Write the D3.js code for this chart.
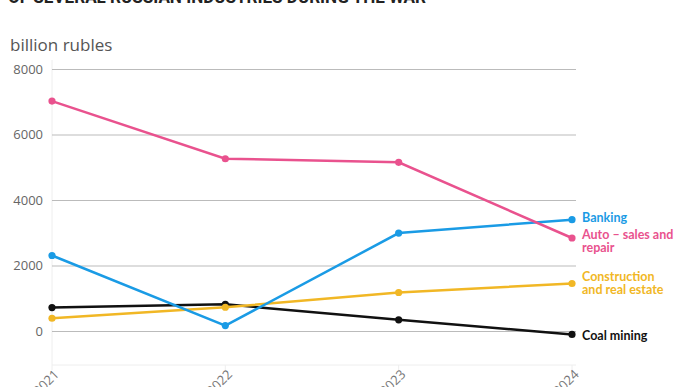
<!DOCTYPE html>
<html><head><meta charset="utf-8">
<script src="https://cdn.jsdelivr.net/npm/d3@7"></script>
<style>body{margin:0;background:#fff}svg{display:block}</style>
</head><body>
<script>
const years = ["2021","2022","2023","2024"];
const yTicks = [0,2000,4000,6000,8000];
const seriesNames = ["Auto – sales and repair","Banking","Construction and real estate","Coal mining"];
const auto = [7020, 5260, 5150, 2840];
const banking = [2305, 165, 2990, 3400];
const construction = [390, 725, 1175, 1450];
const coal = [715, 815, 340, -105];
const colors = ["#e9528e","#1a9be5","#f1b725","#111111"];
const labelLines = [["Auto – sales and","repair"],["Banking"],["Construction","and real estate"],["Coal mining"]];
const title = "OF SEVERAL RUSSIAN INDUSTRIES DURING THE WAR";
const unit = "billion rubles";

const W=688,H=387;
const svg=d3.select("body").append("svg").attr("width",W).attr("height",H);
const x=d3.scalePoint().domain(years).range([52,572]);
const y=d3.scaleLinear().domain([0,8000]).range([331,69]);

svg.append("text").attr("x",8).attr("y",3).attr("font-family","Roboto, sans-serif").attr("font-weight",700)
  .attr("font-size",19).attr("fill","#222").attr("textLength",418).attr("lengthAdjust","spacingAndGlyphs").text(title);
svg.append("text").attr("x",10).attr("y",51).attr("font-family","'Open Sans', sans-serif")
  .attr("font-size",17).attr("fill","#555").text(unit);

// faint frame
svg.append("line").attr("x1",52).attr("x2",52).attr("y1",60).attr("y2",365).attr("stroke","#eee");
svg.append("line").attr("x1",52).attr("x2",576).attr("y1",365).attr("y2",365).attr("stroke","#eee");
years.forEach(d=>svg.append("line").attr("x1",x(d)).attr("x2",x(d)).attr("y1",365).attr("y2",370).attr("stroke","#eee"));

const ya=d3.axisLeft(y).tickValues(yTicks).tickFormat(d3.format("d")).tickSize(-524).tickPadding(9);
const gy=svg.append("g").attr("transform","translate(52,0)").call(ya);
gy.select(".domain").remove();
gy.selectAll(".tick line").attr("stroke","#bbb");
gy.selectAll(".tick text").attr("font-family","'Open Sans', sans-serif").attr("font-size",13).attr("fill","#666");

const xa=d3.axisBottom(x).tickSize(0).tickPadding(0);
const gx=svg.append("g").attr("transform","translate(0,372)").call(xa);
gx.select(".domain").remove();
gx.selectAll(".tick text").attr("font-family","'Open Sans', sans-serif").attr("font-size",13).attr("fill","#777")
  .attr("text-anchor","end").attr("dy","0.35em").attr("transform","translate(4,0) rotate(-45)");

const data=[auto,banking,construction,coal];
const line=d3.line().x((d,i)=>x(years[i])).y(d=>y(d));
const order=[3,2,1,0];
order.forEach(k=>{
  svg.append("path").datum(data[k]).attr("d",line).attr("fill","none").attr("stroke",colors[k]).attr("stroke-width",2.5);
  svg.selectAll(null).data(data[k]).enter().append("circle").attr("cx",(d,i)=>x(years[i])).attr("cy",d=>y(d)).attr("r",3.6).attr("fill",colors[k]);
});
const labelY=[239,222,281,340];
data.forEach((s,k)=>{
  const t=svg.append("text").attr("x",582).attr("y",labelY[k]).attr("font-family","Lato, sans-serif").attr("font-weight",700)
    .attr("font-size",12.5).attr("fill",colors[k]);
  labelLines[k].forEach((l,j)=>t.append("tspan").attr("x",582).attr("dy",j?12.5:0).text(l));
});
</script>
</body></html>
